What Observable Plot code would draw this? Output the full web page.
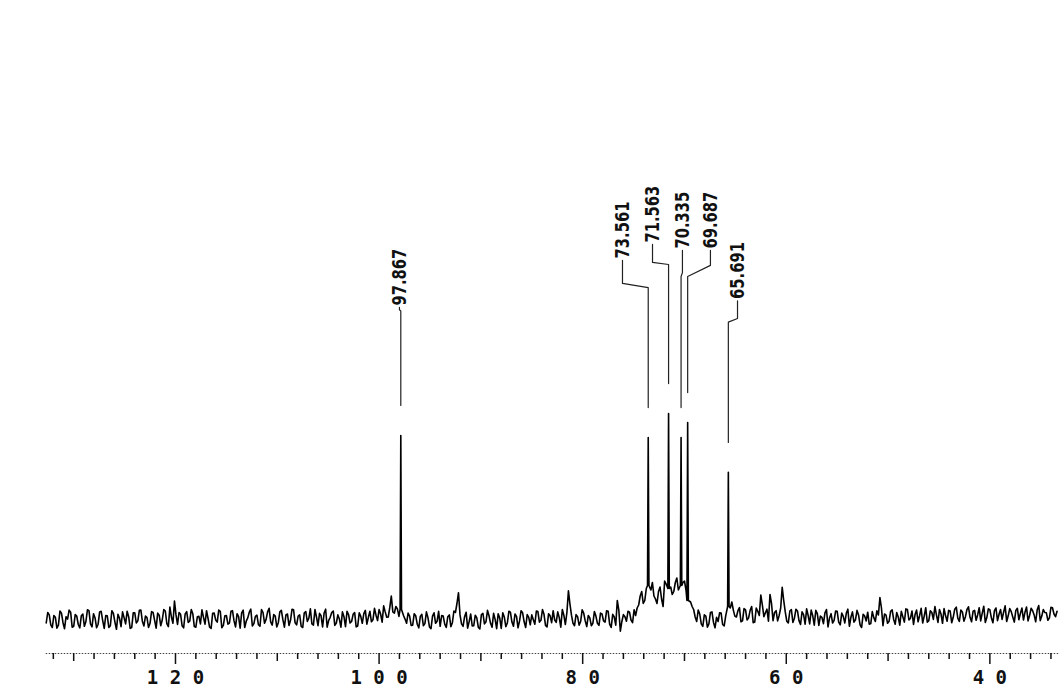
<!DOCTYPE html>
<html><head><meta charset="utf-8">
<script src="https://cdn.jsdelivr.net/npm/d3@7"></script>
<script src="https://cdn.jsdelivr.net/npm/@observablehq/plot@0.6"></script>
<style>html,body{margin:0;padding:0;background:#fff;} #chart svg{display:block;background:#fff;}</style>
</head><body><div id="chart"></div>
<script>
// ---- data (13C NMR, ppm) ----
const peakShifts  = [97.867, 73.561, 71.563, 70.335, 69.687, 65.691];
const peakHeights = [61, 60.3, 68.3, 60.3, 65.3, 48.7];
const peakBases   = [3, 11, 10, 11, 6, 4];
const peakLabels  = ["97.867", "73.561", "71.563", "70.335", "69.687", "65.691"];
const tickLabels  = [120, 100, 80, 60, 40];
const midTicks    = [130, 110, 90, 70, 50];
// baseline noise, two interleaved sample grids (A: 132.70 - 0.3 i, B: 132.55 - 0.3 i)
const noiseStartA = 132.7, noiseStartB = 132.55, noiseStep = 0.3;
const noiseA = [
 -1.5, 1.2, -3.0, 0.4, -2.2, 1.8, -3.4, -0.2, 2.1, -2.6, 0.8, -3.1, 1.5, -1.0, 2.6, -2.8, 0.2, -1.9, 2.4, -3.3,
 0.9, -2.4, 1.7, -3.6, 0.1, 2.2, -1.8, 0.6, -3.0, 1.9, -0.8, 2.8, -2.5, 0.3, -1.6, 2.0, -3.2, 1.1, -0.5, 2.5,
 -2.7, 0.5, 5.8, -2.0, 1.4, -3.1, 2.3, -0.9, 1.6, -2.9, 0.7, 2.9, -1.9, 0.0, -3.3, 1.8, -1.2, 2.4, -2.3, 1.0,
 -1.5, 2.6, -2.8, 0.6, 1.9, -3.0, 0.2, 3.1, -1.7, 1.1, -2.6, 2.0, -0.3, 3.4, -2.2, 0.8, -1.4, 2.7, -2.9, 1.5,
 -0.6, 2.9, -2.1, 1.2, -3.0, 2.3, 0.1, -1.8, 3.0, -2.4, 0.9, 1.8, -2.9, 0.4, 2.5, -1.5, -0.2, 2.2, -2.7, 1.3,
 -1.0, 2.0, -2.5, 0.7, 1.6, -1.9, 2.4, -0.4, 1.1, 3.0, -1.2, 2.2, 0.5, 7.5, 1.8, 3.2, 2.6, 1.0, -1.6, 0.8,
 -2.2, 0.9, -3.1, 1.4, -1.7, 0.3, -3.4, 1.9, -0.9, -2.6, 0.8, -3.0, 1.2, -1.4, 2.0, 8.6, -1.8, 0.6, -3.2, 1.5,
 -2.4, 0.2, -3.5, 1.7, -1.1, 0.9, -2.9, -0.3, 1.6, -3.3, 0.5, -1.5, 2.1, -2.6, 0.7, -0.8, 1.9, -3.0, 0.4, 1.2,
 -1.9, 2.3, -0.6, 1.4, -2.8, 0.9, 2.6, -1.3, 0.3, 3.0, -2.0, 9.2, 1.1, -2.4, 0.6, -1.0, 1.8, -2.7, 0.2, -1.6,
 0.8, -2.3, 1.5, -1.2, 2.4, -3.0, 0.5, 6.0, -4.2, 1.3, -0.9, 2.1, -1.4, 1.0, 4.5, 9.0, 6.0, 11.0, 9.5, 7.5,
 5.0, 10.5, 4.0, 11.5, 6.0, 8.0, 12.0, 9.5, 11.0, 12.5, 13.0, 5.5, 3.0, -1.0, 1.5, -2.6, 0.8, -1.8, 2.2, -3.1,
 -1.0, 1.8, -2.5, 2.0, 3.5, 2.8, 0.5, 3.6, -0.8, 2.9, 0.2, 4.0, -1.2, 2.4, 7.8, 0.6, 3.1, 8.0, -0.7, 2.6,
 1.0, 10.4, 2.2, -1.5, 3.0, 0.1, 2.5, -2.0, 1.3, 3.2, -1.8, 0.9, 2.7, -2.3, 0.4, 1.9, -2.8, 1.6, -0.6, 2.4,
 -2.1, 0.7, 1.8, -2.6, 2.2, -0.4, 1.2, -3.0, 0.8, 2.1, -1.7, 0.3, 2.6, 7.0, -2.4, 1.1, -0.9, 2.9, -1.9, 0.5,
 2.4, -1.2, 3.0, 0.1, -2.0, 2.8, 1.0, -1.5, 3.6, -0.7, 2.0, 4.0, -1.3, 1.5, 3.3, -0.9, 2.5, 0.4, 3.8, -1.0,
 2.2, 0.6, 3.9, -1.1, 2.7, 1.2, -0.8, 4.1, 0.3, 2.9, -1.4, 3.5, 1.4, -0.3, 4.2, 0.9, 2.3, -1.2, 3.4, 1.7,
 -0.5, 3.8, 1.0, 2.6, -1.1, 4.3, 0.8, 2.0, -0.6, 3.7, 1.5, 2.4
];
const noiseB = [
 2.0, -2.1, 1.0, -3.2, 2.5, -1.4, 0.6, 2.8, -2.9, 1.3, -2.0, 0.9, -2.6, 2.9, -1.8, 1.6, -3.1, 2.2, -0.7, 1.0,
 -3.0, 2.6, -1.2, 1.4, -2.7, 0.3, 2.4, -3.3, 1.9, -1.5, 2.7, -1.0, 0.8, -3.0, 2.3, -0.6, 1.8, -2.4, 3.0, -1.7,
 3.8, -1.6, 1.2, 2.0, -2.4, 1.5, -1.3, 3.0, -2.7, 0.6, -1.8, 0.4, 2.6, -2.9, 1.7, -0.5, 2.8, -3.1, 0.9, -1.9,
 2.4, -0.8, 1.6, -3.2, 2.8, -0.9, 2.1, -2.5, 0.7, -2.1, 3.0, -1.6, 2.2, -1.1, 1.3, -2.8, 2.2, -0.4, 1.2, -2.3,
 3.1, -1.4, 0.8, -2.6, 1.9, -1.0, 3.2, -2.2, 0.5, 1.7, -2.8, 3.1, -0.6, 2.0, -2.3, 1.2, -2.9, 0.6, 2.4, -1.5,
 1.4, -2.8, 1.9, -1.6, 2.7, 0.4, -1.1, 3.4, -0.7, 1.5, 4.2, 0.4, 3.6, 2.2, 4.0, 0.7, 3.0, -0.2, 1.8, -2.3,
 1.6, -1.9, 0.7, -2.4, 2.2, -2.8, 0.8, -1.6, 2.4, 1.0, -1.9, 0.6, -2.7, 2.5, 5.0, 1.2, -2.6, 2.1, -1.0, -2.5,
 1.1, -3.0, 1.3, -1.8, 2.7, -1.6, 1.7, -3.4, 0.2, 1.9, -2.7, 2.4, -1.2, 1.5, -3.1, 2.6, -1.1, 1.3, -2.1, -0.4,
 2.5, -1.2, 3.0, -2.3, 1.6, -1.4, -0.5, 2.2, -2.9, 1.1, 2.0, 4.8, -1.6, 1.3, -2.2, 2.9, -0.8, 1.0, -2.4, 2.3,
 -1.6, 1.8, -0.8, 2.6, -1.9, 1.4, -2.2, 2.8, -1.0, 0.6, 2.4, -0.5, 2.9, 3.5, 7.5, 5.0, 10.0, 8.0, 12.0, 6.5,
 9.0, 6.5, 12.5, 8.0, 10.5, 9.0, 13.5, 10.0, 12.0, 9.5, 8.0, 4.0, 0.5, 2.8, -1.8, 1.2, -2.9, 2.0, -1.3, 0.4,
 1.9, -2.0, 0.9, 4.0, 5.5, 0.8, 2.6, -1.1, 3.3, -0.5, 2.7, -1.4, 3.5, 1.0, 4.5, 1.9, -0.9, 5.0, 2.0, -0.8,
 3.5, 6.0, -0.9, 2.5, -1.3, 3.1, -0.7, 2.2, -1.9, 1.0, 2.8, -2.2, 1.6, 0.8, -1.7, 3.0, 0.2, -1.5, 2.5, -1.2,
 1.8, -1.5, 3.1, 0.4, -1.2, 2.7, -2.1, 1.4, -0.8, -1.9, 2.3, -1.0, 1.2, 3.5, 1.5, -1.6, 2.4, -0.3, 2.0, -2.2,
 0.6, 3.2, -0.5, 2.5, 1.3, -1.1, 3.4, 0.8, -1.2, 2.6, -0.3, 1.2, 3.0, -1.6, 0.9, 2.7, -1.4, 3.1, 0.1, 2.8,
 -0.9, 3.0, 0.4, 2.4, -0.6, 3.6, 1.8, -1.3, 3.2, 0.2, 2.6, -0.7, 3.0, 2.1, -1.0, 3.3, 0.5, 2.7, -0.4, 3.5,
 2.1, -0.8, 3.4, 1.2, 2.9, -0.7, 3.0, 1.9, 0.2, 3.6, 0.6
];

// ---- layout (label placement, in chart units) ----
const labelLayout = [
  {lx: 98.0,  ly: 104.3, b1: 102.9, b2: 102.5},
  {lx: 76.09, ly: 120.0, b1: 111.7, b2: 110.3},
  {lx: 73.14, ly: 125.3, b1: 118.7, b2: 118.0},
  {lx: 70.20, ly: 123.3, b1: 115.3, b2: 114.0},
  {lx: 67.45, ly: 123.3, b1: 117.7, b2: 114.0},
  {lx: 64.79, ly: 106.5, b1: 100.0, b2: 98.8}
];
const W = 1059, H = 689;
const xDomain = [137.19, 33.16];
const yDomain = [-11.667, 206];

// spectrum trace = baseline noise + peaks
const gridA = noiseA.map((v, i) => ({ppm: +(noiseStartA - i * noiseStep).toFixed(2), v}));
const gridB = noiseB.map((v, i) => ({ppm: +(noiseStartB - i * noiseStep).toFixed(2), v}));
const spectrum = gridA.concat(gridB)
  .filter(d => peakShifts.every(p => Math.abs(d.ppm - p) > 0.14));
peakShifts.forEach((p, k) => {
  spectrum.push({ppm: p + 0.07, v: peakBases[k]}, {ppm: p, v: peakHeights[k]}, {ppm: p - 0.07, v: peakBases[k]});
});
spectrum.sort((a, b) => b.ppm - a.ppm);

const leaders = [];
peakShifts.forEach((p, k) => {
  const L = labelLayout[k];
  leaders.push({k, ppm: L.lx, v: L.ly - 0.6}, {k, ppm: L.lx, v: L.b1}, {k, ppm: p, v: L.b2}, {k, ppm: p, v: peakHeights[k] + 10});
});
const labels = peakShifts.map((p, k) => ({ppm: labelLayout[k].lx, v: labelLayout[k].ly, t: peakLabels[k]}));

const minorTicks = d3.range(132, 33, -2).filter(t => t % 10 !== 0);
const labelFont = "'Liberation Sans Narrow','DejaVu Sans Condensed',sans-serif";
const tickFont = "'DejaVu Sans Mono','Liberation Mono',monospace";

const svg = Plot.plot({
  width: W, height: H,
  marginLeft: 0, marginRight: 0, marginTop: 0, marginBottom: 36,
  x: {domain: xDomain, axis: null, label: null},
  y: {domain: yDomain, axis: null, label: null},
  marks: [
    Plot.ruleY([yDomain[0]], {x1: noiseStartA, x2: xDomain[1], stroke: "#444", strokeDasharray: "1.5,1.5", strokeWidth: 1.2}),
    Plot.axisX(minorTicks, {tickSize: 6, text: null, label: null, stroke: "#111", strokeWidth: 1.5}),
    Plot.axisX(midTicks, {tickSize: 8, text: null, label: null, stroke: "#111", strokeWidth: 1.5}),
    Plot.axisX(tickLabels, {tickSize: 11, tickPadding: 6, label: null, fontSize: 19, fontWeight: "bold", fontFamily: tickFont, fill: "#111", stroke: "#111", strokeWidth: 1.5, tickFormat: d => String(d)}),
    Plot.line(spectrum, {x: "ppm", y: "v", stroke: "#000", strokeWidth: 1.6}),
    Plot.line(leaders, {x: "ppm", y: "v", z: "k", stroke: "#222", strokeWidth: 1.2}),
    Plot.text(labels, {x: "ppm", y: "v", text: "t", rotate: -90, textAnchor: "start", lineAnchor: "middle", fontSize: 19, fontWeight: "bold", fontFamily: labelFont, fill: "#111"})
  ]
});
document.getElementById("chart").appendChild(svg);
// plotter-style lettering: spaced tick numerals, narrow peak labels
svg.querySelectorAll('[aria-label="x-axis tick label"] text').forEach(t => {
  t.setAttribute("letter-spacing", "11.5px"); t.setAttribute("dx", "5.75");
});
svg.querySelectorAll('[aria-label="text"] text').forEach(t => {
  t.setAttribute("textLength", "57"); t.setAttribute("lengthAdjust", "spacingAndGlyphs");
});
</script></body></html>
